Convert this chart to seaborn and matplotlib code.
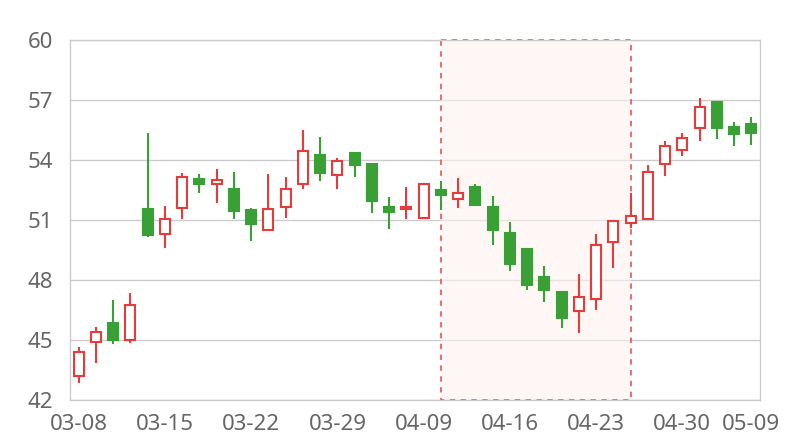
import matplotlib
matplotlib.use("Agg")
import matplotlib.pyplot as plt
import seaborn as sns
import pandas as pd

# trading days shown on the category axis
dates = ['03-08', '03-09', '03-10', '03-11', '03-12',
         '03-15', '03-16', '03-17', '03-18', '03-19',
         '03-22', '03-23', '03-24', '03-25', '03-26',
         '03-29', '03-30', '03-31', '04-01', '04-02',
         '04-09', '04-12', '04-13', '04-14', '04-15',
         '04-16', '04-19', '04-20', '04-21', '04-22',
         '04-23', '04-26', '04-27', '04-28', '04-29',
         '04-30', '05-06', '05-07', '05-08', '05-09']

open_ = [43.2, 44.88, 45.83, 44.98, 51.55, 50.28, 51.58, 53.07, 52.78, 52.55,
         51.48, 50.5, 51.65, 52.8, 54.27, 53.27, 54.33, 53.82, 51.67, 51.53,
         51.1, 52.52, 52.07, 52.63, 51.63, 50.33, 49.53, 48.13, 47.42, 46.45,
         47.05, 49.92, 50.83, 51.03, 53.78, 54.5, 55.6, 56.92, 55.65, 55.82]
close = [44.4, 45.38, 45.0, 46.75, 50.25, 51.05, 53.17, 52.82, 52.98, 51.47,
         50.78, 51.55, 52.57, 54.47, 53.35, 53.93, 53.75, 51.93, 51.4, 51.65,
         52.8, 52.27, 52.37, 51.77, 50.48, 48.8, 47.73, 47.52, 46.1, 47.13,
         49.75, 50.93, 51.18, 53.42, 54.7, 55.12, 56.63, 55.58, 55.28, 55.37]
high = [44.67, 45.67, 47.0, 47.35, 55.37, 51.7, 53.37, 53.3, 53.55, 53.38,
        51.58, 53.28, 53.15, 55.5, 55.17, 54.08, 54.35, 53.82, 52.13, 52.65,
        52.8, 52.97, 53.1, 52.8, 52.2, 50.88, 49.53, 48.7, 47.42, 48.3,
        50.28, 50.95, 52.33, 53.73, 54.93, 55.35, 57.08, 56.92, 55.88, 56.17]
low = [42.83, 43.83, 44.78, 44.83, 50.17, 49.62, 51.05, 52.37, 51.83, 51.07,
       49.97, 50.43, 51.12, 52.55, 52.93, 52.57, 53.17, 51.37, 50.53, 51.07,
       51.1, 51.5, 51.58, 51.7, 49.73, 48.47, 47.48, 46.92, 45.6, 45.33,
       46.48, 48.58, 50.6, 51.03, 53.18, 54.22, 54.97, 55.03, 54.68, 54.73]

# highlighted period
area_start = '04-12'
area_end = '04-27'

y_ticks = [42, 45, 48, 51, 54, 57, 60]
label_dates = ['03-08', '03-15', '03-22', '03-29', '04-09', '04-16', '04-23', '04-30', '05-09']

UP = '#e63b3b'
DOWN = '#39a035'

df = pd.DataFrame({'date': dates, 'open': open_, 'close': close, 'high': high, 'low': low})
df['idx'] = range(len(df))
df['up'] = df['close'] >= df['open']
df['body_lo'] = df[['open', 'close']].min(axis=1)
df['body_h'] = (df['close'] - df['open']).abs()

sns.set_theme(style="white")
plt.rcParams['font.family'] = ['Noto Sans', 'DejaVu Sans']

fig = plt.figure(figsize=(8, 4.4), dpi=100)
ax = fig.add_axes([0.0875, 0.0909, 0.8625, 0.8182])

# grid
for t in y_ticks:
    ax.axhline(t, color='#cccccc', lw=1, zorder=0)

# mark area
x0 = dates.index(area_start)
x1 = dates.index(area_end)
ax.fill_between([x0, x1], 42, 60, color='#fff0f0', alpha=0.6, lw=0, zorder=1)
ax.plot([x0, x1, x1, x0, x0], [60, 60, 42, 42, 60], color='#ee4444', lw=1.3,
        ls=(0, (3, 3)), alpha=0.85, zorder=2, clip_on=False)

# wicks and bodies
for up, color in [(True, UP), (False, DOWN)]:
    d = df[df['up'] == up]
    ax.vlines(d['idx'], d['low'], d['high'], color=color, lw=1.5, zorder=3)
    ax.bar(d['idx'], d['body_h'].clip(lower=0.04), bottom=d['body_lo'], width=0.58,
           facecolor='white' if up else color, edgecolor=color, linewidth=1.5, zorder=4)

ax.set_xlim(-0.5, len(dates) - 0.5)
ax.set_ylim(42, 60)
ax.set_yticks(y_ticks)
ax.set_xticks([dates.index(d) for d in label_dates])
ax.set_xticklabels(label_dates)
ax.tick_params(axis='both', length=0, labelsize=16, colors='#666666')
ax.tick_params(axis='y', pad=12)
ax.tick_params(axis='x', pad=10)
for s in ax.spines.values():
    s.set_color('#cccccc')
    s.set_linewidth(1)

fig.savefig('out.png', dpi=100)
